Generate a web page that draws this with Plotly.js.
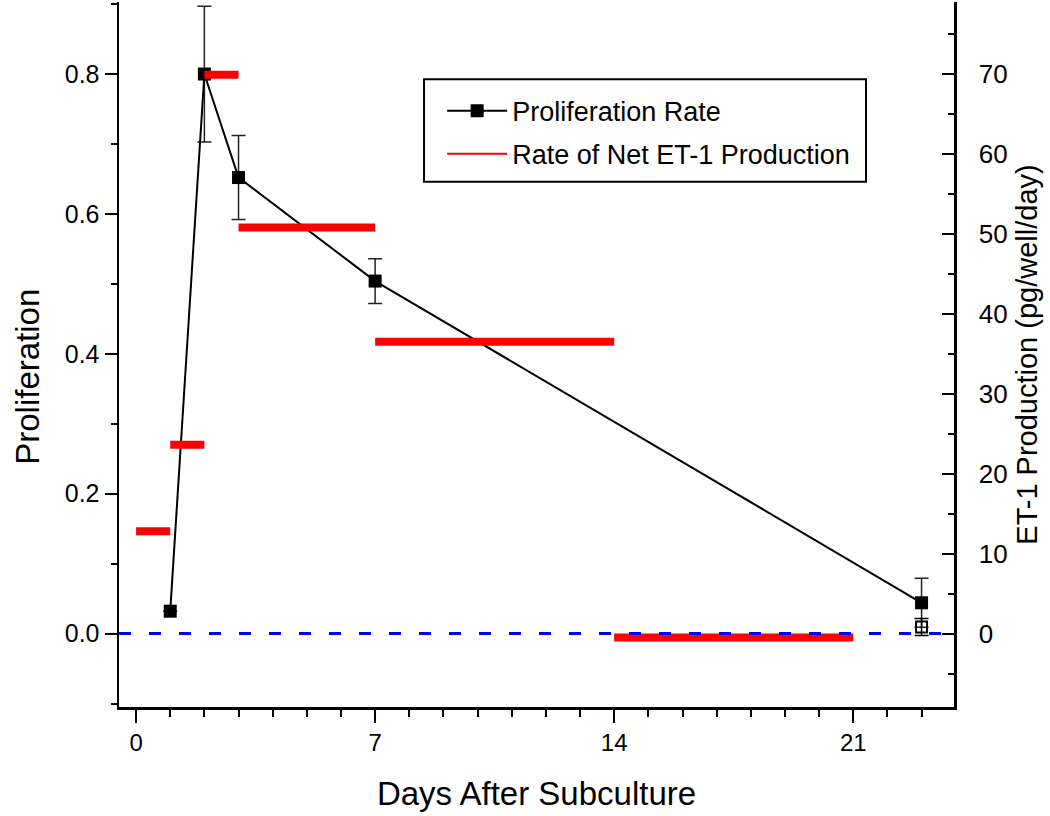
<!DOCTYPE html>
<html>
<head>
<meta charset="utf-8">
<script src="https://cdn.plot.ly/plotly-3.0.1.min.js"></script>
<style>html,body{margin:0;padding:0;background:#fff;}#chart{width:1050px;height:816px;}</style>
</head>
<body>
<div id="chart"></div>
<script>
// Proliferation rate (left axis)
const prolifDays = [1, 2, 3, 7, 23];
const prolifRate = [0.032, 0.800, 0.652, 0.504, 0.044];
const prolifErr  = [0.000, 0.097, 0.060, 0.032, 0.035];

// Separate open-square point at day 23
const openDays = [23];
const openRate = [0.0094];
const openErr  = [0.012];

// Rate of net ET-1 production (right axis), one value per interval
const etStart = [0, 1, 2, 3, 7, 14];
const etEnd   = [1, 2, 3, 7, 14, 21];
const etRate  = [12.8, 23.6, 69.9, 50.8, 36.5, -0.5];

const xTickVals = [0, 7, 14, 21];

// build segment arrays for ET-1
const etX = [], etY = [];
for (let i = 0; i < etRate.length; i++) {
  etX.push(etStart[i], etEnd[i], null);
  etY.push(etRate[i], etRate[i], null);
}

const FONT = 'Liberation Sans, Arial, sans-serif';

const traces = [
  {
    x: prolifDays, y: prolifRate, type: 'scatter', mode: 'lines+markers',
    name: 'Proliferation Rate', legendgroup: 'a',
    line: {color: 'black', width: 2},
    marker: {symbol: 'square', size: 13, color: 'black'},
    error_y: {type: 'data', array: prolifErr, visible: true, color: '#222', thickness: 1.5, width: 7},
    cliponaxis: false
  },
  {
    x: openDays, y: openRate, type: 'scatter', mode: 'markers', showlegend: false,
    marker: {symbol: 'square-open', size: 11, color: 'black', line: {width: 2, color: 'black'}},
    error_y: {type: 'data', array: openErr, visible: true, color: 'black', thickness: 1.5, width: 7}
  },
  {
    x: etX, y: etY, type: 'scatter', mode: 'lines', yaxis: 'y2', showlegend: false,
    line: {color: '#ff0000', width: 8}, connectgaps: false
  },
  {
    x: [null], y: [null], type: 'scatter', mode: 'lines', yaxis: 'y2',
    name: 'Rate of Net ET-1 Production', legendgroup: 'b',
    line: {color: '#ff0000', width: 2}
  }
];

const layout = {
  width: 1050, height: 816,
  margin: {l: 119, r: 96, t: 2, b: 109},
  paper_bgcolor: 'white', plot_bgcolor: 'white',
  font: {family: FONT, color: 'black', size: 22},
  showlegend: true,
  legend: {
    x: 0.387, y: 0.880, xanchor: 'left', yanchor: 'top',
    bgcolor: 'rgba(0,0,0,0)', borderwidth: 0,
    font: {size: 27, family: FONT},
    traceorder: 'grouped', tracegroupgap: 5, itemwidth: 60
  },
  xaxis: {
    range: [-0.5, 23.95], tickmode: 'array', tickvals: xTickVals,
    ticks: 'outside', ticklen: 13, tickwidth: 2, tickcolor: 'black',
    showline: true, linewidth: 2.5, linecolor: 'black',
    showgrid: false, zeroline: false,
    tickfont: {size: 24, family: FONT},
    minor: {tickmode: 'linear', tick0: 0, dtick: 1, ticks: 'outside', ticklen: 7, tickwidth: 2, tickcolor: 'black', showgrid: false},
    title: {text: 'Days After Subculture', standoff: 27, font: {size: 33, family: FONT}},
    automargin: false
  },
  yaxis: {
    range: [-0.105, 0.903], tickmode: 'linear', tick0: 0, dtick: 0.2, tickformat: '.1f',
    ticks: 'outside', ticklen: 12, tickwidth: 2, tickcolor: 'black',
    showline: true, linewidth: 2.5, linecolor: 'black',
    showgrid: false, zeroline: false,
    tickfont: {size: 25},
    ticklabelstandoff: 0,
    minor: {tickmode: 'linear', tick0: 0, dtick: 0.1, ticks: 'outside', ticklen: 6, tickwidth: 2, tickcolor: 'black', showgrid: false},
    automargin: false
  },
  yaxis2: {
    overlaying: 'y', side: 'right',
    range: [-9.19, 79.0], tickmode: 'linear', tick0: 0, dtick: 10,
    ticks: 'inside', ticklen: 12, tickwidth: 2, tickcolor: 'black',
    showline: true, linewidth: 2.5, linecolor: 'black',
    showgrid: false, zeroline: false,
    tickfont: {size: 26},
    ticklabelstandoff: 17,
    minor: {tickmode: 'linear', tick0: 0, dtick: 5, ticks: 'inside', ticklen: 6, tickwidth: 2, tickcolor: 'black', showgrid: false},
    title: {text: 'ET-1 Production (pg/well/day)', standoff: 10, font: {size: 29}},
    automargin: false
  },
  annotations: [
    {text: 'Proliferation', xref: 'paper', yref: 'paper', x: -0.1105, y: 0.468,
     xanchor: 'center', yanchor: 'middle', textangle: -90, showarrow: false,
     font: {size: 33, family: FONT, color: 'black'}}
  ],
  shapes: [
    {type: 'line', xref: 'paper', x0: 0, x1: 1, yref: 'y', y0: 0, y1: 0,
     line: {color: '#0000ff', width: 3, dash: '12px,18px'}, layer: 'above'},
    {type: 'rect', xref: 'paper', yref: 'paper', x0: 0.3653, x1: 0.8946, y0: 0.7451, y1: 0.8904,
     line: {color: 'black', width: 2}, fillcolor: 'rgba(0,0,0,0)', layer: 'above'}
  ]
};

Plotly.newPlot('chart', traces, layout, {displayModeBar: false, staticPlot: true});
</script>
</body>
</html>
